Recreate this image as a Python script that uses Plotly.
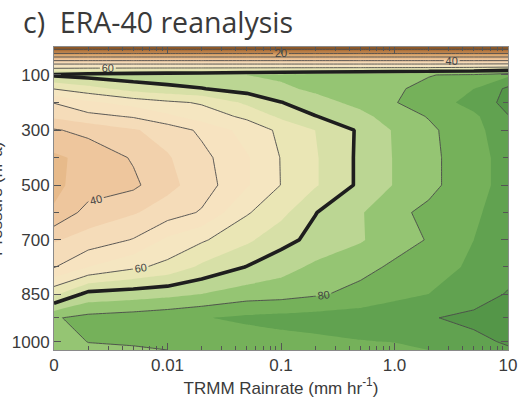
import numpy as np
import plotly.graph_objects as go

# TRMM rain-rate bins (mm/hr); the first bin stands for "no rain"
RAIN = [0.001, 0.002, 0.005, 0.01, 0.02, 0.05, 0.1, 0.2, 0.5, 1.0, 2.0, 5.0, 10.0]

# Pressure levels (hPa)
PRESSURE = [1, 10, 20, 30, 50, 70, 100, 150, 200, 250, 300, 400, 500,
            600, 700, 775, 850, 925, 1000, 1025]

# ERA-40 relative humidity (%), one row per pressure level
RH = [
    [5, 5, 5, 5, 5, 5, 5, 5, 5, 5, 5, 5, 5],
    [10.5, 10.5, 10.5, 10.5, 10.5, 10.5, 10.5, 10.5, 10.5, 10.5, 10.5, 10.5, 10.5],
    [17, 17, 17, 17, 17, 17, 17, 17, 17, 17, 17, 17, 17],
    [25, 25, 25, 25, 25, 25, 25, 25, 25, 25, 25, 25, 25],
    [40.5, 40.5, 40.5, 40.5, 40.5, 40.5, 40.5, 40.5, 40.5, 40.5, 40.5, 40.5, 40.5],
    [57, 57, 57, 57, 57, 57, 57, 57, 57, 57, 57, 57.5, 58],
    [70.8, 72, 73, 73.5, 74, 75, 76, 77, 78, 79, 79.8, 81, 84],
    [60.2, 63, 67, 68.5, 69.8, 72, 74, 76, 78, 79.5, 81, 85, 91],
    [50.2, 54, 57, 59, 60.5, 66, 69.8, 73, 76.5, 79.8, 82, 87, 91.5],
    [46, 48.5, 50.5, 54, 57.5, 61, 66, 69.8, 73.5, 77.5, 80.3, 84, 89.8],
    [39.5, 41.5, 44.5, 47, 51, 57, 61, 65, 70.8, 75.5, 79, 83.5, 88],
    [34, 36.5, 40.5, 44.5, 48.5, 54.5, 60.2, 64.5, 71, 75.3, 78.8, 83, 87],
    [34, 37, 39, 43.5, 47.5, 54.5, 60.1, 64.5, 71, 75.3, 78.8, 83, 87],
    [35.5, 42, 44.5, 47.5, 50.5, 59.5, 63.5, 69.8, 74.5, 79, 81, 84, 88],
    [44.5, 47, 50.3, 56, 59.3, 64, 68.3, 71.5, 74.5, 78, 80.3, 85, 88],
    [49.7, 55, 59, 61.5, 66, 70.2, 73, 76, 78.5, 80.8, 82.5, 86, 88.5],
    [64, 71.5, 72.5, 73.5, 75, 77.5, 78, 79.3, 81.5, 83.5, 85, 88, 90.3],
    [79.5, 81.5, 82.5, 83.5, 84.7, 86, 86.5, 87, 87.5, 88.5, 89.7, 91, 92],
    [76, 80.2, 80.5, 81, 82, 82.5, 83.5, 84, 84.8, 85.2, 86.5, 89, 90.5],
    [75, 78.5, 79.5, 80, 81, 81.5, 82, 82.5, 83, 83.5, 85, 87, 89.5],
]

X_TICKS = [0.001, 0.01, 0.1, 1.0, 10.0]
X_LABELS = ["0", "0.01", "0.1", "1.0", "10"]
P_TICKS = [100, 300, 500, 700, 850, 1000]
P_LABELS = ["100", "300", "500", "700", "850", "1000"]
P_MINOR = [200, 400, 600, 775, 925]

# Stretched vertical coordinate: pressure -> distance below the panel top
P_KNOTS = [1, 100, 300, 500, 700, 850, 1000, 1025]
Y_KNOTS = [0, 28.2, 84, 139.5, 194.8, 249.5, 297.5, 306]


def axis_y(p):
    return np.interp(p, P_KNOTS, Y_KNOTS)


# Fill colours for 5 % bands, from 0-5 up to 95-100
BAND_COLORS = [
    "#7a4a1e", "#a0642e", "#b87a42", "#c98f56", "#d8a46c", "#e1b47f",
    "#e8bb8c", "#efc89f", "#f2d2ad", "#f5dcb9", "#f7e3c0", "#f6e6c2",
    "#ece6b6", "#dbe2aa", "#c3d99a", "#9fca7b", "#7cb75e", "#66a653",
    "#599b4b", "#4e8f45",
]
stops = [BAND_COLORS[0]] + BAND_COLORS + [BAND_COLORS[-1]]
n = len(stops) - 1
colorscale = [[i / n, c] for i, c in enumerate(stops)]

y_rows = axis_y(np.array(PRESSURE, dtype=float))

fig = go.Figure()

fig.add_trace(go.Contour(
    x=RAIN, y=y_rows, z=RH,
    autocontour=False,
    contours=dict(start=0, end=100, size=5, coloring="fill"),
    colorscale=colorscale, zmin=0, zmax=100,
    line=dict(width=0, smoothing=0),
    showscale=False, hoverinfo="skip",
))

LABEL_FONT = dict(family="Liberation Sans, Arial, sans-serif", size=11, color="#444444")

# Thin contours without labels
for lo, hi in [(10, 50), (90, 90)]:
    fig.add_trace(go.Contour(
        x=RAIN, y=y_rows, z=RH,
        autocontour=False,
        contours=dict(start=lo, end=hi, size=20, coloring="none"),
        line=dict(color="#4a4a4a", width=0.9, smoothing=0),
        showscale=False, hoverinfo="skip",
    ))

# Labelled contours 20, 40, 60, 80
fig.add_trace(go.Contour(
    x=RAIN, y=y_rows, z=RH,
    autocontour=False,
    contours=dict(start=20, end=80, size=20, coloring="none",
                  showlabels=True, labelfont=LABEL_FONT, labelformat=".0f"),
    line=dict(color="#4a4a4a", width=0.9, smoothing=0),
    showscale=False, hoverinfo="skip",
))

# Heavy 70 % contour
fig.add_trace(go.Contour(
    x=RAIN, y=y_rows, z=RH,
    autocontour=False,
    contours=dict(start=70, end=70, size=10, coloring="none"),
    line=dict(color="#1e1e1e", width=3.6, smoothing=0),
    showscale=False, hoverinfo="skip",
))

TICK_FONT = dict(family="Liberation Sans, Arial, sans-serif", size=17, color="#3a3a3a")

fig.update_layout(
    width=529, height=401,
    margin=dict(l=47, r=17, t=47, b=48),
    paper_bgcolor="white", plot_bgcolor="white",
    showlegend=False,
    xaxis=dict(
        type="log", range=[-3, 1],
        tickmode="array", tickvals=X_TICKS, ticktext=X_LABELS,
        ticks="inside", ticklen=7, tickwidth=1, tickcolor="#555555",
        minor=dict(
            tickmode="array",
            tickvals=[m * 10.0 ** e for e in (-3, -2, -1, 0) for m in range(2, 10)],
            ticks="inside", ticklen=4, tickwidth=1, tickcolor="#555555",
        ),
        showline=True, linecolor="#8a8a8a", linewidth=1, mirror="allticks",
        showgrid=False, zeroline=False,
        tickfont=TICK_FONT,
        title=dict(text="TRMM Rainrate (mm hr<sup>-1</sup>)", font=TICK_FONT, standoff=2),
    ),
    yaxis=dict(
        range=[306, 0],
        tickmode="array", tickvals=list(axis_y(np.array(P_TICKS, dtype=float))),
        ticktext=P_LABELS,
        ticks="inside", ticklen=7, tickwidth=1, tickcolor="#555555",
        minor=dict(
            tickmode="array", tickvals=list(axis_y(np.array(P_MINOR, dtype=float))),
            ticks="inside", ticklen=5, tickwidth=1, tickcolor="#555555",
        ),
        showline=True, linecolor="#8a8a8a", linewidth=1, mirror="allticks",
        showgrid=False, zeroline=False,
        tickfont=TICK_FONT,
    ),
    annotations=[
        dict(text="c)  ERA-40 reanalysis", xref="paper", yref="paper",
             x=-34 / 465, y=1 + 25 / 306, xanchor="left", yanchor="middle",
             showarrow=False,
             font=dict(family="Open Sans, sans-serif", size=28.5, color="#3a3a3a")),
        dict(text="Pressure (hPa)", xref="paper", yref="paper",
             x=-59 / 465, y=0.5, xanchor="center", yanchor="middle",
             textangle=-90, showarrow=False, font=TICK_FONT),
    ],
)

fig.write_html("out.html")
